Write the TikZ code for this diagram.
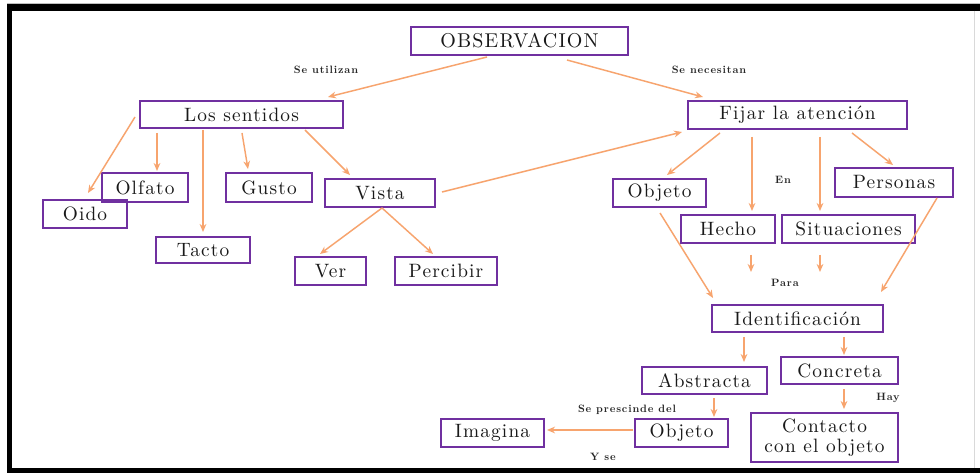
\documentclass[tikz,border=0pt]{standalone}
\usepackage{fontspec}
\setmainfont{lmroman10-regular}[Extension=.otf, BoldFont=lmroman10-bold, ItalicFont=lmroman10-italic, BoldItalicFont=lmroman10-bolditalic]
\usetikzlibrary{calc,arrows.meta}
\definecolor{boxc}{RGB}{112,48,160}
\definecolor{arrc}{RGB}{247,164,110}
\newcommand\boxfont{\fontsize{14.5}{15.5}\selectfont\addfontfeatures{LetterSpace=6}}
\newcommand\bigboxfont{\fontsize{15}{16}\selectfont\addfontfeatures{LetterSpace=6}}
\newcommand\lblfont{\fontsize{8}{9}\selectfont\bfseries\addfontfeatures{LetterSpace=8}}
\tikzset{
 box/.style={draw=boxc, line width=1.9pt, inner sep=0pt, outer sep=0pt, font=\boxfont, text=black!90, align=center},
 arr/.style={draw=arrc, line width=1.1pt, -{Stealth[length=6pt,width=5pt]}},
 lbl/.style={font=\lblfont, inner sep=0pt, text=black!85},
}
\newcommand\bx[7][]{\node[box, minimum width={(#5-#3)*0.75pt}, minimum height={(#6-#4)*0.75pt}, #1] (#2) at ({(#3+#5)/2},{(#4+#6)/2}) {#7};}
\begin{document}
\begin{tikzpicture}[x=0.75pt,y=-0.75pt]
\useasboundingbox (0,0) rectangle (980,473);
% frame
\fill[white] (0,0) rectangle (980,473);
\draw[black!25, line width=0.6pt] (7,3) -- (980,3);
\fill[black] (7,4) rectangle (980,11);
\fill[black] (7,4) rectangle (12,473);
\fill[black] (7,468) rectangle (980,473);
\draw[black!15, line width=0.6pt] (974,11) -- (974,468);
% boxes
\bx[font=\bigboxfont]{obs}{411}{27}{628}{55}{OBSERVACION}
\bx{ls}{140}{101}{343}{128}{Los sentidos}
\bx{fij}{688}{101}{907}{129}{Fijar la atención}
\bx{olf}{102}{173}{188}{202}{Olfato}
\bx{oid}{43}{200}{127}{228}{Oido}
\bx{gus}{226}{173}{312}{202}{Gusto}
\bx{vis}{325}{179}{435}{207}{Vista}
\bx{tac}{156}{237}{250}{263}{Tacto}
\bx{ver}{295}{257}{366}{285}{Ver}
\bx{per}{395}{257}{497}{285}{Percibir}
\bx{obj}{613}{179}{706}{207}{Objeto}
\bx{pers}{835}{168}{953}{197}{Personas}
\bx{hec}{681}{215}{775}{243}{Hecho}
\bx{sit}{782}{215}{915}{243}{Situaciones}
\bx{ide}{712}{305}{883}{332}{Identificación}
\bx{abs}{642}{367}{767}{394}{Abstracta}
\bx{con}{781}{357}{898}{384}{Concreta}
\bx{objb}{635}{419}{728}{447}{Objeto}
\bx{ima}{441}{419}{544}{447}{Imagina}
\bx{cont}{751}{413}{898}{462}{Contacto\\[-1pt]con el objeto}
% labels
\node[lbl] (l1) at (326,70) {Se utilizan};
\node[lbl] (l2) at (709,70) {Se necesitan};
\node[lbl] (l3) at (783,180) {En};
\node[lbl] (l4) at (785,283) {Para};
\node[lbl] (l5) at (888,398) {Hay};
\node[lbl] (l6) at (627,410) {Se prescinde del};
\node[lbl] (l7) at (603,457) {Y se};
% arrows
\draw[arr] ($(obs.north west)+(76,30)$) -- ($(ls.north west)+(188,-4)$);
\draw[arr] ($(obs.north west)+(156,33)$) -- ($(fij.north west)+(15,-4)$);
\draw[arr] ($(ls.north west)+(-5,16)$) -- ($(oid.north west)+(45,-7)$);
\draw[arr] ($(ls.north west)+(17,32)$) -- ($(olf.north west)+(55,-2)$);
\draw[arr] ($(ls.north west)+(63,29)$) -- ($(tac.north west)+(47,-5)$);
\draw[arr] ($(ls.north west)+(102,32)$) -- ($(gus.north west)+(22,-4)$);
\draw[arr] ($(ls.north west)+(165,29)$) -- ($(vis.north west)+(25,-4)$);
\draw[arr] ($(vis.north west)+(57,29)$) -- ($(ver.north west)+(25,-3)$);
\draw[arr] ($(vis.north west)+(57,29)$) -- ($(per.north west)+(38,-3)$);
\draw[arr] ($(vis.north west)+(117,13)$) -- ($(fij.north west)+(-6,31)$);
\draw[arr] ($(fij.north west)+(32,32)$) -- ($(obj.north west)+(54,-4)$);
\draw[arr] ($(fij.north west)+(64,36)$) -- ($(hec.north west)+(71,-4)$);
\draw[arr] ($(fij.north west)+(132,36)$) -- ($(sit.north west)+(38,-4)$);
\draw[arr] ($(fij.north west)+(164,32)$) -- ($(pers.north west)+(58,-3)$);
\draw[arr] ($(hec.north west)+(70,40)$) -- ($(ide.north west)+(39,-33)$);
\draw[arr] ($(sit.north west)+(38,40)$) -- ($(ide.north west)+(108,-33)$);
\draw[arr] ($(obj.north west)+(47,34)$) -- ($(ide.north west)+(1,-7)$);
\draw[arr] ($(pers.north west)+(102,30)$) -- ($(ide.north west)+(169,-13)$);
\draw[arr] ($(ide.north west)+(32,32)$) -- ($(abs.north west)+(102,-5)$);
\draw[arr] ($(ide.north west)+(132,32)$) -- ($(con.north west)+(63,-2)$);
\draw[arr] ($(abs.north west)+(72,31)$) -- ($(objb.north west)+(79,-2)$);
\draw[arr] ($(con.north west)+(63,32)$) -- ($(cont.north west)+(93,-4)$);
\draw[arr] ($(objb.north west)+(-2,11)$) -- ($(ima.north west)+(106,11)$);
\end{tikzpicture}
\end{document}
